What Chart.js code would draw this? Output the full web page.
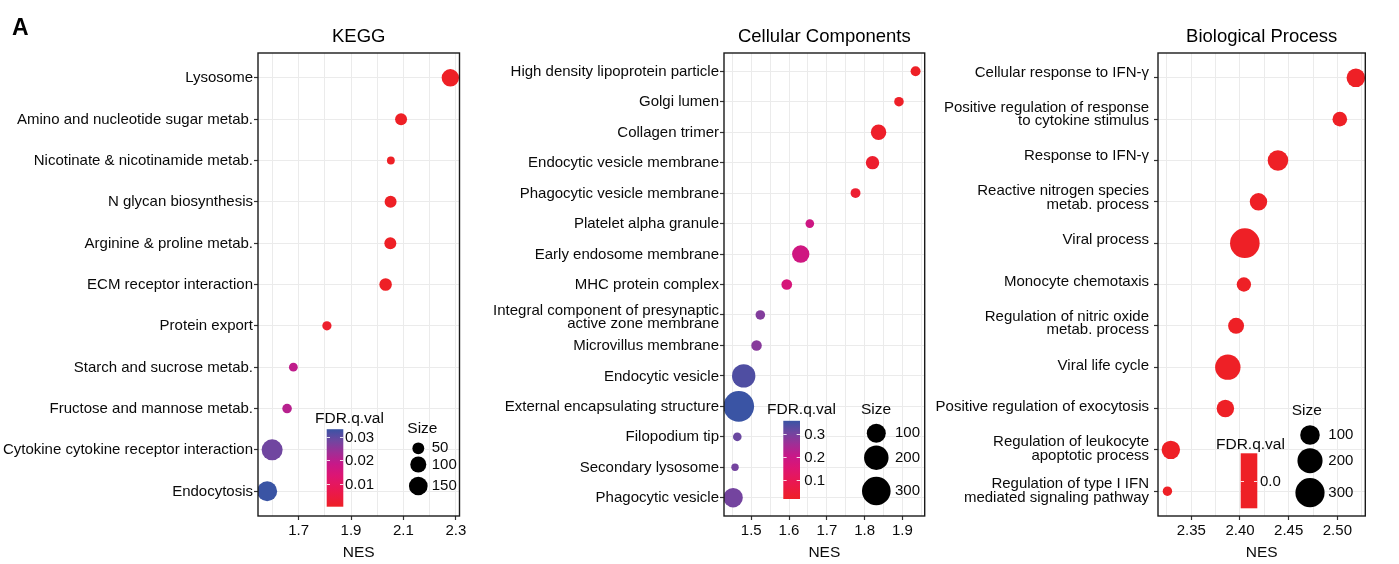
<!DOCTYPE html>
<html>
<head>
<meta charset="utf-8">
<title>GSEA enrichment dot plots</title>
<script src="https://cdn.jsdelivr.net/npm/chart.js@4.4.1/dist/chart.umd.min.js"></script>
<style>
  html, body { margin: 0; padding: 0; background: #fff; }
  #wrap { position: relative; width: 1399px; height: 564px; overflow: hidden; background: #fff; }
  canvas { position: absolute; top: 0; }
</style>
</head>
<body>
<div id="wrap">
  <canvas id="kegg" width="470" height="564" style="left:0px"></canvas>
  <canvas id="cc" width="470" height="564" style="left:470px"></canvas>
  <canvas id="bp" width="471" height="564" style="left:928px"></canvas>
</div>
<script>
// ---------- KEGG ----------
const keggTerms = [
  'Lysosome',
  'Amino and nucleotide sugar metab.',
  'Nicotinate & nicotinamide metab.',
  'N glycan biosynthesis',
  'Arginine & proline metab.',
  'ECM receptor interaction',
  'Protein export',
  'Starch and sucrose metab.',
  'Fructose and mannose metab.',
  'Cytokine cytokine receptor interaction',
  'Endocytosis'
];
const keggNES  = [2.279, 2.091, 2.052, 2.051, 2.050, 2.032, 1.808, 1.680, 1.656, 1.599, 1.580];
const keggSize = [124, 51, 34, 51, 51, 56, 36, 35, 37, 204, 179];
const keggFDR  = [0, 0, 0, 0, 0, 0, 0.001, 0.0195, 0.0205, 0.0285, 0.0335];
const keggNesTicks = [1.7, 1.9, 2.1, 2.3];
const keggNesTickLabels = ['1.7', '1.9', '2.1', '2.3'];
const keggFdrBreaks = [0.01, 0.02, 0.03];
const keggFdrLabels = ['0.01', '0.02', '0.03'];
const keggSizeBreaks = [50, 100, 150];

// ---------- Cellular Components ----------
const ccTerms = [
  'High density lipoprotein particle',
  'Golgi lumen',
  'Collagen trimer',
  'Endocytic vesicle membrane',
  'Phagocytic vesicle membrane',
  'Platelet alpha granule',
  'Early endosome membrane',
  'MHC protein complex',
  'Integral component of presynaptic\nactive zone membrane',
  'Microvillus membrane',
  'Endocytic vesicle',
  'External encapsulating structure',
  'Filopodium tip',
  'Secondary lysosome',
  'Phagocytic vesicle'
];
const ccNES  = [1.935, 1.891, 1.837, 1.821, 1.776, 1.655, 1.631, 1.594, 1.524, 1.514, 1.480, 1.467, 1.463, 1.457, 1.452];
const ccSize = [19, 18, 56, 38, 19, 16, 78, 22, 18, 21, 177, 356, 16, 15, 106];
const ccFDR  = [0.017, 0.021, 0.024, 0.030, 0.035, 0.190, 0.185, 0.170, 0.285, 0.280, 0.335, 0.355, 0.310, 0.300, 0.300];
const ccNesTicks = [1.5, 1.6, 1.7, 1.8, 1.9];
const ccNesTickLabels = ['1.5', '1.6', '1.7', '1.8', '1.9'];
const ccFdrBreaks = [0.1, 0.2, 0.3];
const ccFdrLabels = ['0.1', '0.2', '0.3'];
const ccSizeBreaks = [100, 200, 300];

// ---------- Biological Process ----------
const bpTerms = [
  'Cellular response to IFN-\u03b3',
  'Positive regulation of response\nto cytokine stimulus',
  'Response to IFN-\u03b3',
  'Reactive nitrogen species\nmetab. process',
  'Viral process',
  'Monocyte chemotaxis',
  'Regulation of nitric oxide\nmetab. process',
  'Viral life cycle',
  'Positive regulation of exocytosis',
  'Regulation of leukocyte\napoptotic process',
  'Regulation of type I IFN\nmediated signaling pathway'
];
const bpNES  = [2.519, 2.5025, 2.439, 2.419, 2.405, 2.404, 2.396, 2.3875, 2.385, 2.329, 2.3255];
const bpSize = [87, 47, 115, 73, 312, 45, 58, 206, 73, 85, 28];
const bpFDR  = [0, 0, 0, 0, 0, 0, 0, 0, 0, 0, 0];
const bpNesTicks = [2.35, 2.40, 2.45, 2.50];
const bpNesTickLabels = ['2.35', '2.40', '2.45', '2.50'];
const bpFdrBreaks = [0];
const bpFdrLabels = ['0.0'];
const bpSizeBreaks = [100, 200, 300];

// ---------- shared styling ----------
const FONT = '"Liberation Sans", Arial, Helvetica, sans-serif';
const TEXT = '#0a0a0a';
const GRID = '#EBEBEB';
// low FDR -> red, high FDR -> blue
const RAMP = [
  [0.00, [238, 32, 38]],
  [0.20, [234, 24, 78]],
  [0.40, [221, 21, 115]],
  [0.55, [200, 24, 136]],
  [0.70, [160, 46, 150]],
  [0.85, [112, 70, 160]],
  [1.00, [58, 84, 164]]
];
function rampColor(t) {
  t = Math.max(0, Math.min(1, t));
  for (let i = 1; i < RAMP.length; i++) {
    if (t <= RAMP[i][0]) {
      const [t0, c0] = RAMP[i - 1], [t1, c1] = RAMP[i];
      const f = (t - t0) / (t1 - t0);
      const c = c0.map((v, k) => Math.round(v + (c1[k] - v) * f));
      return `rgb(${c[0]},${c[1]},${c[2]})`;
    }
  }
  const c = RAMP[RAMP.length - 1][1];
  return `rgb(${c[0]},${c[1]},${c[2]})`;
}

const r6 = v => Math.round(v * 1e6) / 1e6;

// Draws category labels, the panel frame, panel title, colour bar and size key
const panelDecor = {
  id: 'panelDecor',
  afterDatasetsDraw(chart, args, o) {
    const ctx = chart.ctx, a = chart.chartArea, ys = chart.scales.y;
    ctx.save();

    // category labels on the y axis
    ctx.fillStyle = TEXT;
    ctx.font = `15px ${FONT}`;
    ctx.textAlign = 'right';
    ctx.textBaseline = 'middle';
    const lx = a.left - 4 - o.labelPad;
    o.terms.forEach((t, i) => {
      const lines = t.split('\n');
      const cy = ys.getPixelForValue(i + 1) + o.labelShift(i, lines.length);
      lines.forEach((s, j) => {
        ctx.fillText(s, lx, cy + (j - (lines.length - 1) / 2) * o.lineGap);
      });
    });

    ctx.strokeStyle = '#1a1a1a';
    ctx.lineWidth = 1.4;
    ctx.strokeRect(a.left, a.top, a.right - a.left, a.bottom - a.top);

    ctx.fillStyle = '#000';
    ctx.textAlign = 'center';
    ctx.font = `18.5px ${FONT}`;
    ctx.fillText(o.title, (a.left + a.right) / 2, 37);

    if (o.letter) {
      ctx.textAlign = 'left';
      ctx.textBaseline = 'alphabetic';
      ctx.font = `bold 23px ${FONT}`;
      ctx.fillText(o.letter, 12, 35);
    }

    // colour bar
    const cb = o.colorbar;
    const lo = Math.min(...o.fdr), hi = Math.max(...o.fdr);
    if (hi > lo) {
      const g = ctx.createLinearGradient(0, cb.y + cb.h, 0, cb.y);
      for (let i = 0; i <= 20; i++) g.addColorStop(i / 20, rampColor(i / 20));
      ctx.fillStyle = g;
    } else {
      ctx.fillStyle = rampColor(0);
    }
    ctx.fillRect(cb.x, cb.y, cb.w, cb.h);
    const yOf = v => hi > lo ? cb.y + cb.h - (v - lo) / (hi - lo) * cb.h : cb.y + cb.h / 2;
    ctx.strokeStyle = 'rgba(255,255,255,0.85)';
    ctx.lineWidth = 1;
    ctx.font = `15px ${FONT}`;
    ctx.textAlign = 'left';
    ctx.textBaseline = 'middle';
    o.fdrBreaks.forEach((v, i) => {
      const y = Math.round(yOf(v)) + 0.5;
      const tl = cb.w / 5;
      ctx.beginPath();
      ctx.moveTo(cb.x, y); ctx.lineTo(cb.x + tl, y);
      ctx.moveTo(cb.x + cb.w - tl, y); ctx.lineTo(cb.x + cb.w, y);
      ctx.stroke();
      ctx.fillStyle = TEXT;
      ctx.fillText(o.fdrLabels[i], cb.labelX, y);
    });
    ctx.fillStyle = TEXT;
    ctx.font = `15.5px ${FONT}`;
    ctx.fillText('FDR.q.val', cb.titleX, cb.titleY);

    // size key
    const sk = o.sizeKey;
    ctx.fillText('Size', sk.titleX, sk.titleY);
    ctx.font = `15px ${FONT}`;
    o.sizeBreaks.forEach((v, i) => {
      ctx.fillStyle = '#000';
      ctx.beginPath();
      ctx.arc(sk.cx, sk.cy[i], o.radius(v), 0, Math.PI * 2);
      ctx.fill();
      ctx.fillStyle = TEXT;
      ctx.fillText(String(v), sk.labelX, sk.cy[i]);
    });
    ctx.restore();
  }
};

function makePanel(id, spec) {
  const n = spec.terms.length;
  const sMin = Math.min(...spec.size), sMax = Math.max(...spec.size);
  const radius = v => spec.rRange[0] + (spec.rRange[1] - spec.rRange[0]) *
    Math.sqrt(Math.max(0, (v - sMin) / (sMax - sMin)));
  const fLo = Math.min(...spec.fdr), fHi = Math.max(...spec.fdr);
  const colorOf = v => rampColor(fHi > fLo ? (v - fLo) / (fHi - fLo) : 0);

  const nMin = Math.min(...spec.nes), nMax = Math.max(...spec.nes);
  const pad = (nMax - nMin) * 0.05;
  const xMin = nMin - pad, xMax = nMax + pad;

  const step = spec.ticks[1] - spec.ticks[0];
  const allTicks = [];
  spec.ticks.forEach(v => { allTicks.push(r6(v - step / 2)); allTicks.push(r6(v)); });
  allTicks.push(r6(spec.ticks[spec.ticks.length - 1] + step / 2));
  const xTicks = allTicks.filter(v => v >= xMin && v <= xMax);
  const majorIdx = v => spec.ticks.findIndex(t => Math.abs(t - v) < 1e-6);

  return new Chart(document.getElementById(id), {
    type: 'scatter',
    data: {
      datasets: [{
        data: spec.nes.map((x, i) => ({ x: x, y: i + 1 })),
        pointRadius: c => radius(spec.size[c.dataIndex]),
        pointHoverRadius: c => radius(spec.size[c.dataIndex]),
        pointBackgroundColor: c => colorOf(spec.fdr[c.dataIndex]),
        pointBorderWidth: 0,
        clip: 0
      }]
    },
    options: {
      responsive: false,
      animation: false,
      devicePixelRatio: 1,
      events: [],
      layout: { padding: { top: 53, right: spec.padRight, bottom: 0, left: 0 } },
      plugins: {
        legend: { display: false },
        tooltip: { enabled: false },
        panelDecor: {
          title: spec.title, letter: spec.letter, fdr: spec.fdr, terms: spec.terms,
          labelPad: spec.labelPad, lineGap: spec.lineGap, labelShift: spec.labelShift,
          fdrBreaks: spec.fdrBreaks, fdrLabels: spec.fdrLabels,
          sizeBreaks: spec.sizeBreaks, radius: radius,
          colorbar: spec.colorbar, sizeKey: spec.sizeKey
        }
      },
      scales: {
        x: {
          type: 'linear', min: xMin, max: xMax,
          afterBuildTicks: s => { s.ticks = xTicks.map(v => ({ value: v })); },
          afterFit: s => { s.height = 48; s.paddingLeft = 0; s.paddingRight = 0; },
          ticks: {
            autoSkip: false, maxRotation: 0, minRotation: 0, padding: 2,
            color: TEXT, font: { family: FONT, size: 15 },
            callback: v => { const k = majorIdx(v); return k >= 0 ? spec.tickLabels[k] : ''; }
          },
          grid: {
            color: GRID, lineWidth: 1, tickLength: 4, tickWidth: 1.2,
            tickColor: c => (c.tick && majorIdx(c.tick.value) >= 0) ? '#333' : 'rgba(0,0,0,0)'
          },
          border: { display: false },
          title: {
            display: true, text: 'NES', color: TEXT,
            font: { family: FONT, size: 15.5 }, padding: { top: 0, bottom: 2 }
          }
        },
        y: {
          type: 'linear', reverse: true, min: 0.4, max: n + 0.6,
          afterBuildTicks: s => { s.ticks = spec.terms.map((t, i) => ({ value: i + 1 })); },
          afterFit: s => { s.width = spec.plotLeft; s.paddingTop = 0; s.paddingBottom = 0; },
          ticks: { display: false },
          grid: { color: GRID, lineWidth: 1, tickLength: 4, tickWidth: 1.2, tickColor: '#333' },
          border: { display: false }
        }
      }
    },
    plugins: [panelDecor]
  });
}

makePanel('kegg', {
  title: 'KEGG', letter: 'A',
  terms: keggTerms, nes: keggNES, size: keggSize, fdr: keggFDR,
  ticks: keggNesTicks, tickLabels: keggNesTickLabels,
  fdrBreaks: keggFdrBreaks, fdrLabels: keggFdrLabels, sizeBreaks: keggSizeBreaks,
  rRange: [3.9, 10.5], plotLeft: 258, padRight: 7,
  labelPad: 1, lineGap: 12.5, labelShift: () => 0.5,
  colorbar: { x: 326.7, y: 429.2, w: 16.6, h: 77.5, labelX: 345, titleX: 315, titleY: 419 },
  sizeKey: { titleX: 407.3, titleY: 428.3, cx: 418.3, cy: [448.3, 464.5, 486], labelX: 431.7 }
});

makePanel('cc', {
  title: 'Cellular Components',
  terms: ccTerms, nes: ccNES, size: ccSize, fdr: ccFDR,
  ticks: ccNesTicks, tickLabels: ccNesTickLabels,
  fdrBreaks: ccFdrBreaks, fdrLabels: ccFdrLabels, sizeBreaks: ccSizeBreaks,
  rRange: [3.7, 15.3], plotLeft: 254, padRight: 14,
  labelPad: 1, lineGap: 12.4, labelShift: (i, m) => m > 1 ? 2.5 : 0.5,
  colorbar: { x: 313.3, y: 420.8, w: 16.7, h: 78.2, labelX: 334.3, titleX: 297, titleY: 410 },
  sizeKey: { titleX: 391, titleY: 410, cx: 406.3, cy: [433.3, 457.7, 491], labelX: 425 }
});

makePanel('bp', {
  title: 'Biological Process',
  terms: bpTerms, nes: bpNES, size: bpSize, fdr: bpFDR,
  ticks: bpNesTicks, tickLabels: bpNesTickLabels,
  fdrBreaks: bpFdrBreaks, fdrLabels: bpFdrLabels, sizeBreaks: bpSizeBreaks,
  rRange: [4.7, 14.8], plotLeft: 230, padRight: 33.7,
  labelPad: 5, lineGap: 13.6, labelShift: i => -5.4 + 0.52 * i,
  colorbar: { x: 312.7, y: 453.3, w: 16.6, h: 55, labelX: 332, titleX: 288, titleY: 444.3 },
  sizeKey: { titleX: 363.7, titleY: 411, cx: 382, cy: [435, 460.7, 492.7], labelX: 400.3 }
});
</script>
</body>
</html>
